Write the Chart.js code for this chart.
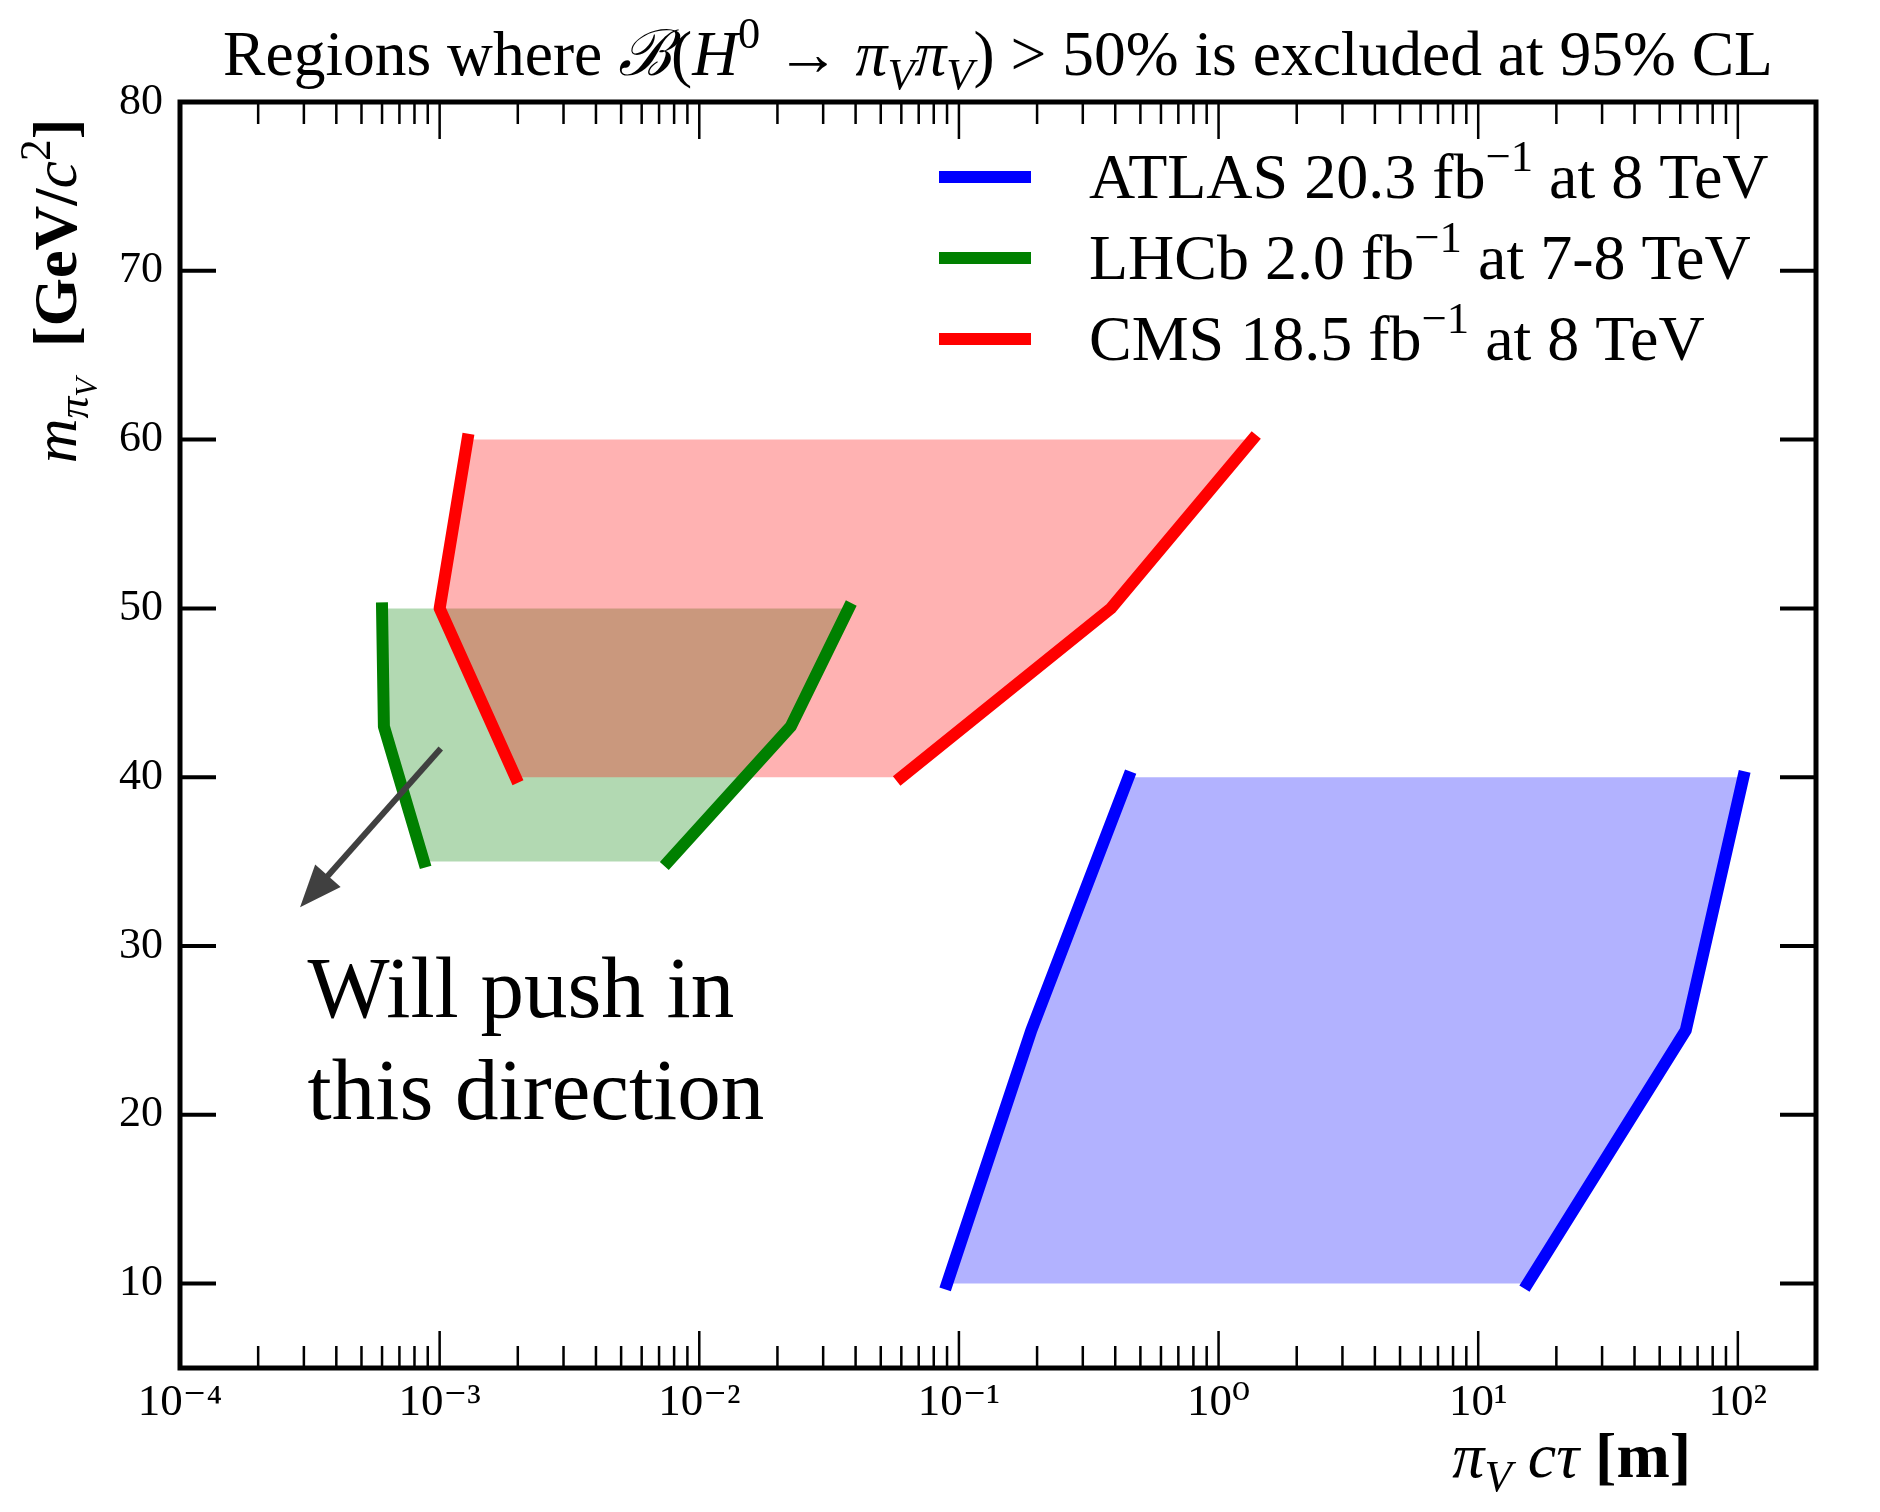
<!DOCTYPE html>
<html>
<head>
<meta charset="utf-8">
<script src="https://cdn.jsdelivr.net/npm/chart.js@4.4.1/dist/chart.umd.min.js"></script>
<style>
  html, body { margin: 0; padding: 0; background: #fff; }
  #wrap { width: 1880px; height: 1512px; position: relative; }
</style>
</head>
<body>
<div id="wrap"><canvas id="limits"></canvas></div>
<script>
const SERIF = '"Liberation Serif", "DejaVu Serif", serif';

// each boundary: mass points [GeV/c^2] with the c*tau [m] of the left and right edge
const atlasMass = [10, 25, 40];
const atlasLeftCtau = [0.09, 0.19, 0.45];
const atlasRightCtau = [15.5, 63, 105];

const lhcbMass = [35, 43, 50];
const lhcbLeftCtau = [8.7e-4, 6.1e-4, 6.0e-4];
const lhcbRightCtau = [7.6e-3, 0.0225, 0.0376];

const cmsMass = [40, 50, 60];
const cmsLeftCtau = [1.96e-3, 1.0e-3, 1.28e-3];
const cmsRightCtau = [0.06, 0.385, 1.35];

const lineColors = ['#0000ff', '#008000', '#ff0000'];
const fillColors = ['rgba(0, 0, 255, 0.3)', 'rgba(0, 128, 0, 0.3)', 'rgba(255, 0, 0, 0.3)'];

// legend text: [before superscript, superscript, after]
const seriesLabels = [
  ['ATLAS 20.3 fb', '\u22121', ' at 8 TeV'],
  ['LHCb 2.0 fb', '\u22121', ' at 7-8 TeV'],
  ['CMS 18.5 fb', '\u22121', ' at 8 TeV'],
];

const xMajorTicks = [1e-4, 1e-3, 1e-2, 1e-1, 1, 10, 100];
const xMajorLabels = ['10\u207B\u2074', '10\u207B\u00B3', '10\u207B\u00B2', '10\u207B\u00B9', '10\u2070', '10\u00B9', '10\u00B2'];
const yTicks = [10, 20, 30, 40, 50, 60, 70, 80];

const arrowFrom = [1.01e-3, 41.7];
const arrowTo = [2.9e-4, 32.3];
const noteAt = [3.1e-4, 25.8];
const noteLines = ['Will push in', 'this direction'];

const pts = (xs, ys) => xs.map((x, i) => ({ x, y: ys[i] }));
const shape = (left, right, mass) => pts(left, mass).concat(pts(right, mass).reverse());

function xTickList() {
  const out = [];
  xMajorTicks.forEach((m, i) => {
    out.push(m);
    if (i < xMajorTicks.length - 1) {
      for (let k = 2; k <= 9; k++) out.push(k * m);
    }
  });
  return out;
}

function lineSet(data, color) {
  return {
    data, showLine: true, fill: false, borderColor: color, borderWidth: 12,
    borderCapStyle: 'square', borderJoinStyle: 'round', pointRadius: 0, order: 0,
  };
}

function fillSet(data, color, order) {
  return {
    data, showLine: true, fill: 'shape', backgroundColor: color,
    borderColor: 'rgba(0,0,0,0)', borderWidth: 1, pointRadius: 0, order,
  };
}

// rich text: parts of {t, i, b, s (scale), dy (em offset)}
function layoutRich(ctx, parts, size) {
  let w = 0;
  const items = parts.map((p) => {
    const fs = size * (p.s || 1);
    const font = `${p.i ? 'italic ' : ''}${p.b ? 'bold ' : ''}${fs}px ${SERIF}`;
    ctx.font = font;
    const it = { t: p.t, font, x: w, dy: (p.dy || 0) * size };
    w += ctx.measureText(p.t).width;
    return it;
  });
  return { items, width: w };
}

function drawRich(ctx, parts, x, y, size, align) {
  const { items, width } = layoutRich(ctx, parts, size);
  const x0 = align === 'center' ? x - width / 2 : align === 'right' ? x - width : x;
  ctx.textAlign = 'left';
  ctx.textBaseline = 'alphabetic';
  items.forEach((it) => {
    ctx.font = it.font;
    ctx.fillText(it.t, x0 + it.x, y + it.dy);
  });
}

const SUP = { s: 0.7, dy: -0.42 };
const SUB = { s: 0.7, dy: 0.22 };

const titleParts = [
  { t: 'Regions where ' },
  { t: '\u212C', i: 1 },
  { t: '(' },
  { t: 'H', i: 1 },
  { t: '0', ...SUP },
  { t: ' \u2192 ' },
  { t: '\u03C0', i: 1 }, { t: 'V', i: 1, ...SUB },
  { t: '\u03C0', i: 1 }, { t: 'V', i: 1, ...SUB },
  { t: ') > 50% is excluded at 95% CL' },
];

const xTitleParts = [
  { t: '\u03C0', i: 1 }, { t: 'V', i: 1, ...SUB },
  { t: ' c\u03C4 ', i: 1 },
  { t: '[m]', b: 1 },
];

const yTitleParts = [
  { t: 'm', i: 1 },
  { t: '\u03C0', i: 1, s: 0.7, dy: 0.2 },
  { t: 'V', i: 1, s: 0.5, dy: 0.34 },
  { t: '  [GeV/', b: 1 },
  { t: 'c', i: 1 },
  { t: '2', ...SUP },
  { t: ']', b: 1 },
];

const decor = {
  id: 'decor',
  afterDatasetsDraw(chart) {
    const { ctx, scales: { x, y } } = chart;
    // arrow
    const x1 = x.getPixelForValue(arrowFrom[0]), y1 = y.getPixelForValue(arrowFrom[1]);
    const x2 = x.getPixelForValue(arrowTo[0]), y2 = y.getPixelForValue(arrowTo[1]);
    const ang = Math.atan2(y2 - y1, x2 - x1);
    const headLen = 42, headHalf = 17;
    const bx = x2 - headLen * Math.cos(ang), by = y2 - headLen * Math.sin(ang);
    ctx.save();
    ctx.strokeStyle = '#404040';
    ctx.fillStyle = '#404040';
    ctx.lineWidth = 6;
    ctx.beginPath();
    ctx.moveTo(x1, y1);
    ctx.lineTo(bx + 6 * Math.cos(ang), by + 6 * Math.sin(ang));
    ctx.stroke();
    ctx.beginPath();
    ctx.moveTo(x2, y2);
    ctx.lineTo(bx + headHalf * Math.sin(ang), by - headHalf * Math.cos(ang));
    ctx.lineTo(bx - headHalf * Math.sin(ang), by + headHalf * Math.cos(ang));
    ctx.closePath();
    ctx.fill();
    // note
    ctx.fillStyle = '#000';
    ctx.font = `87px ${SERIF}`;
    ctx.textAlign = 'left';
    ctx.textBaseline = 'alphabetic';
    const nx = x.getPixelForValue(noteAt[0]), ny = y.getPixelForValue(noteAt[1]);
    noteLines.forEach((l, i) => ctx.fillText(l, nx, ny + i * 102));
    ctx.restore();
  },
  afterDraw(chart) {
    const { ctx, chartArea: a, scales: { x, y } } = chart;
    ctx.save();
    ctx.strokeStyle = '#000';
    ctx.lineCap = 'butt';
    // x ticks, inward, bottom and top
    ctx.lineWidth = 2.5;
    x.ticks.forEach((t) => {
      const px = x.getPixelForValue(t.value);
      const len = xMajorTicks.includes(t.value) ? 37 : 22;
      ctx.beginPath();
      ctx.moveTo(px, a.bottom); ctx.lineTo(px, a.bottom - len);
      ctx.moveTo(px, a.top); ctx.lineTo(px, a.top + len);
      ctx.stroke();
    });
    // y ticks, inward, left and right
    ctx.lineWidth = 4;
    y.ticks.forEach((t) => {
      const py = y.getPixelForValue(t.value);
      ctx.beginPath();
      ctx.moveTo(a.left, py); ctx.lineTo(a.left + 36, py);
      ctx.moveTo(a.right, py); ctx.lineTo(a.right - 36, py);
      ctx.stroke();
    });
    // frame
    ctx.lineWidth = 5;
    ctx.lineJoin = 'miter';
    ctx.strokeRect(a.left, a.top, a.right - a.left, a.bottom - a.top);

    ctx.fillStyle = '#000';
    drawRich(ctx, titleParts, (a.left + a.right) / 2, 75, 63.5, 'center');
    drawRich(ctx, xTitleParts, 1691, 1477, 64, 'right');
    ctx.save();
    ctx.translate(76, 291);
    ctx.rotate(-Math.PI / 2);
    drawRich(ctx, yTitleParts, 0, 0, 62, 'center');
    ctx.restore();

    // legend
    seriesLabels.forEach((lab, i) => {
      const cy = 177 + i * 81;
      ctx.strokeStyle = lineColors[i];
      ctx.lineWidth = 12;
      ctx.beginPath();
      ctx.moveTo(939, cy); ctx.lineTo(1031, cy);
      ctx.stroke();
      drawRich(ctx, [{ t: lab[0] }, { t: lab[1], ...SUP }, { t: lab[2] }], 1089, cy + 21, 64, 'left');
    });
    ctx.restore();
  },
};

new Chart(document.getElementById('limits'), {
  type: 'scatter',
  data: {
    datasets: [
      lineSet(pts(atlasLeftCtau, atlasMass), lineColors[0]),
      lineSet(pts(atlasRightCtau, atlasMass), lineColors[0]),
      lineSet(pts(lhcbLeftCtau, lhcbMass), lineColors[1]),
      lineSet(pts(lhcbRightCtau, lhcbMass), lineColors[1]),
      lineSet(pts(cmsLeftCtau, cmsMass), lineColors[2]),
      lineSet(pts(cmsRightCtau, cmsMass), lineColors[2]),
      fillSet(shape(atlasLeftCtau, atlasRightCtau, atlasMass), fillColors[0], 3),
      fillSet(shape(lhcbLeftCtau, lhcbRightCtau, lhcbMass), fillColors[1], 2),
      fillSet(shape(cmsLeftCtau, cmsRightCtau, cmsMass), fillColors[2], 1),
    ],
  },
  options: {
    responsive: true,
    maintainAspectRatio: false,
    animation: false,
    devicePixelRatio: 1,
    events: [],
    layout: { padding: { top: 102, right: 64, left: 0, bottom: 0 } },
    plugins: { legend: { display: false }, tooltip: { enabled: false }, title: { display: false } },
    scales: {
      x: {
        type: 'logarithmic',
        min: 1e-4,
        max: 200,
        grid: { display: false, drawTicks: false },
        border: { display: false },
        afterBuildTicks: (s) => { s.ticks = xTickList().map((v) => ({ value: v })); },
        afterFit: (s) => { s.height = 144; },
        ticks: {
          autoSkip: false,
          maxRotation: 0,
          padding: 8,
          color: '#000',
          font: { family: SERIF, size: 45 },
          callback: (v) => {
            const i = xMajorTicks.indexOf(v);
            return i >= 0 ? xMajorLabels[i] : '';
          },
        },
      },
      y: {
        min: 5,
        max: 80,
        grid: { display: false, drawTicks: false },
        border: { display: false },
        afterBuildTicks: (s) => { s.ticks = yTicks.map((v) => ({ value: v })); },
        afterFit: (s) => { s.width = 180; },
        ticks: {
          padding: 17,
          color: '#000',
          font: { family: SERIF, size: 44 },
        },
      },
    },
  },
  plugins: [decor],
});
</script>
</body>
</html>
